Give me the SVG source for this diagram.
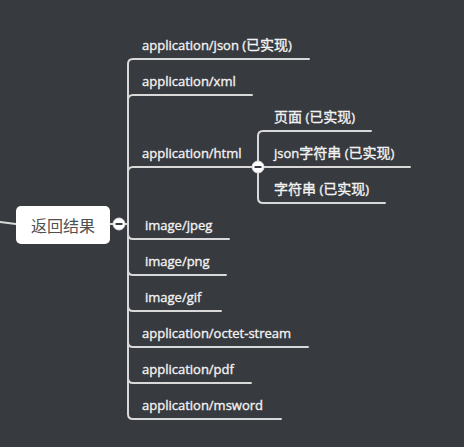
<svg xmlns="http://www.w3.org/2000/svg" width="464" height="447" viewBox="0 0 464 447">
<style>
.bg{fill:#373a3f}
.ln{fill:none;stroke:#d9d9d9;stroke-width:2;stroke-linecap:round}
.t{font-family:"Open Sans","Noto Sans","Noto Sans CJK SC",sans-serif;font-size:13px;fill:#f2f2f2;stroke:#f2f2f2;stroke-width:0.35}
.c{font-family:"Noto Sans CJK SC",sans-serif;font-size:14px}
.root{font-family:"Noto Sans","Noto Sans CJK SC",sans-serif;font-size:16px;fill:#505050}
.cc{fill:#ffffff;stroke:#d9d9d9;stroke-width:1}
.mn{stroke:#373a3f;stroke-width:2}
</style>
<rect class="bg" x="0" y="0" width="464" height="447"/>
<g id="connectors">
<path class="ln" d="M0,222 L16,224"/>
<path class="ln" d="M110,224 L128,224"/>
<path class="ln" d="M128,64 L128,414"/>
<path class="ln" d="M128,64 Q128,59 133,59 L309,59"/>
<path class="ln" d="M128,100 Q128,95 133,95 L252,95"/>
<path class="ln" d="M128,172 Q128,167 133,167 L258,167"/>
<path class="ln" d="M128,234 Q128,239 133,239 L229,239"/>
<path class="ln" d="M128,270 Q128,275 133,275 L226,275"/>
<path class="ln" d="M128,306 Q128,311 133,311 L221,311"/>
<path class="ln" d="M128,342 Q128,347 133,347 L308,347"/>
<path class="ln" d="M128,378 Q128,383 133,383 L251,383"/>
<path class="ln" d="M128,414 Q128,419 133,419 L281,419"/>
<path class="ln" d="M258,136 L258,198"/>
<path class="ln" d="M258,136 Q258,131 263,131 L371,131"/>
<path class="ln" d="M258,167 L410,167"/>
<path class="ln" d="M258,198 Q258,203 263,203 L385,203"/>
</g>
<g id="root">
<rect x="16" y="206" width="94" height="38" rx="5" fill="#ffffff"/>
<text class="root" x="63" y="232" text-anchor="middle">返回结果</text>
</g>
<g id="collapse-root">
<circle class="cc" cx="119" cy="224" r="6"/>
<line class="mn" x1="115.5" y1="224" x2="122.5" y2="224"/>
</g>
<g id="n-json"><text class="t" x="142" y="50">application/json (<tspan class="c">已实现</tspan>)</text></g>
<g id="n-xml"><text class="t" x="142" y="86">application/xml</text></g>
<g id="n-html"><text class="t" x="142" y="158">application/html</text></g>
<g id="n-jpeg"><text class="t" x="145" y="230">image/jpeg</text></g>
<g id="n-png"><text class="t" x="145" y="266">image/png</text></g>
<g id="n-gif"><text class="t" x="145" y="302">image/gif</text></g>
<g id="n-octet"><text class="t" x="142" y="338">application/octet-stream</text></g>
<g id="n-pdf"><text class="t" x="142" y="374">application/pdf</text></g>
<g id="n-msword"><text class="t" x="142" y="410">application/msword</text></g>
<g id="n-page"><text class="t" x="274" y="122"><tspan class="c">页面</tspan> (<tspan class="c">已实现</tspan>)</text></g>
<g id="n-jsonstr"><text class="t" x="274" y="158">json<tspan class="c">字符串</tspan> (<tspan class="c">已实现</tspan>)</text></g>
<g id="n-str"><text class="t" x="274" y="194"><tspan class="c">字符串</tspan> (<tspan class="c">已实现</tspan>)</text></g>
<g id="collapse-html">
<circle class="cc" cx="258" cy="167" r="6"/>
<line class="mn" x1="254.5" y1="167" x2="261.5" y2="167"/>
</g>
</svg>
